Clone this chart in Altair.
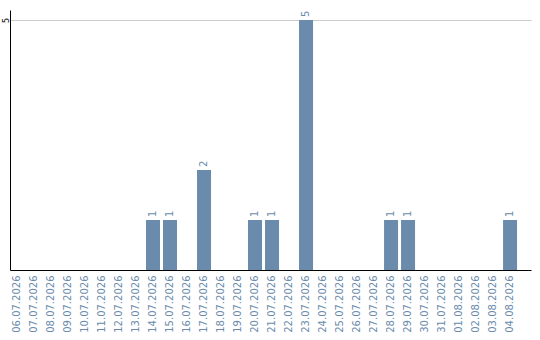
import altair as alt
import pandas as pd

# Daily counts, 06.07.2026 - 04.08.2026
days = [
    "06.07.2026", "07.07.2026", "08.07.2026", "09.07.2026", "10.07.2026",
    "11.07.2026", "12.07.2026", "13.07.2026", "14.07.2026", "15.07.2026",
    "16.07.2026", "17.07.2026", "18.07.2026", "19.07.2026", "20.07.2026",
    "21.07.2026", "22.07.2026", "23.07.2026", "24.07.2026", "25.07.2026",
    "26.07.2026", "27.07.2026", "28.07.2026", "29.07.2026", "30.07.2026",
    "31.07.2026", "01.08.2026", "02.08.2026", "03.08.2026", "04.08.2026",
]
counts = [
    0, 0, 0, 0, 0,
    0, 0, 0, 1, 1,
    0, 2, 0, 0, 1,
    1, 0, 5, 0, 0,
    0, 0, 1, 1, 0,
    0, 0, 0, 0, 1,
]
y_ticks = [5]

df = pd.DataFrame({"day": days, "count": counts})

BAR = "#6a8bab"
FONT = "DejaVu Sans"

# band scale: bars start at the left edge, spare outer space goes to the right
x_enc = alt.X(
    "day:N",
    sort=None,
    title=None,
    scale=alt.Scale(paddingInner=3 / 17, paddingOuter=0.41, align=0),
    axis=alt.Axis(
        labelAngle=-90,
        labelColor=BAR,
        labelFont=FONT,
        labelFontSize=10,
        labelPadding=5,
        ticks=False,
        domainColor="black",
        labelOverlap=False,
    ),
)
y_enc = alt.Y(
    "count:Q",
    title=None,
    scale=alt.Scale(domain=[0, 5.2], nice=False),
    axis=alt.Axis(
        values=y_ticks,
        labelAngle=-90,
        labelAlign="center",
        labelBaseline="alphabetic",
        labelColor="black",
        labelFont=FONT,
        labelFontSize=8,
        labelPadding=2,
        ticks=False,
        grid=True,
        gridColor="#cccccc",
        domainColor="black",
    ),
)

bars = alt.Chart(df).mark_bar(color=BAR).encode(x=x_enc, y=y_enc)

labels = (
    alt.Chart(df)
    .transform_filter("datum.count > 0")
    .mark_text(
        angle=270,
        align="left",
        baseline="middle",
        dx=3,
        color=BAR,
        font=FONT,
        fontSize=10,
    )
    .encode(x=alt.X("day:N", sort=None), y="count:Q", text="count:Q")
)

chart = (
    alt.layer(bars, labels)
    .properties(
        width=521,
        height=260,
        autosize=alt.AutoSizeParams(type="none"),
        padding={"left": 10, "top": 10, "right": 9, "bottom": 70},
    )
    .configure_view(stroke=None)
)

chart.save("out.html", embed_options={"renderer": "svg", "actions": False})
